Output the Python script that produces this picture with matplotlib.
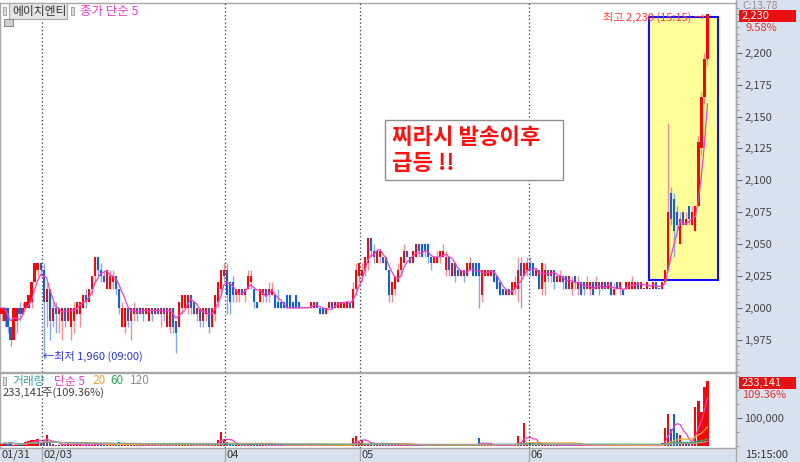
import numpy as np
import pandas as pd
import matplotlib
matplotlib.use('Agg')
import matplotlib.pyplot as plt
import matplotlib.transforms as mtransforms
from matplotlib.patches import Rectangle
from matplotlib.ticker import FuncFormatter, MultipleLocator

plt.rcParams['font.family'] = ['Noto Sans CJK KR', 'DejaVu Sans']

# minute candles (open, high, low, close), one list per trading day
day_0131 = [
    (1995, 2000, 1990, 2000), (1990, 2000, 1985, 2000), (2000, 2000, 1980, 1985),
    (1985, 1985, 1970, 1975), (1975, 2000, 1975, 2000), (1990, 2000, 1980, 2000),
    (2000, 2005, 1990, 1995), (1995, 2005, 1995, 2000), (2000, 2005, 2000, 2005),
    (2000, 2010, 2000, 2010), (2005, 2020, 2000, 2020), (2020, 2035, 2020, 2035),
    (2030, 2035, 2025, 2035), (2035, 2035, 2025, 2030),
]
day_0203 = [
    (2030, 2035, 1960, 2005), (2005, 2020, 1985, 2015), (2015, 2015, 1975, 1990),
    (1990, 2005, 1985, 2000), (2000, 2005, 1980, 1995), (1995, 2000, 1980, 2000),
    (1990, 2000, 1975, 2000), (2000, 2000, 1985, 1990), (1990, 2000, 1990, 2000),
    (1985, 2000, 1975, 2000), (1990, 2005, 1980, 2000), (1995, 2005, 1995, 2005),
    (1995, 2005, 1985, 2005), (2000, 2010, 2000, 2010), (2010, 2015, 2000, 2005),
    (2005, 2015, 2005, 2015), (2015, 2025, 2010, 2025), (2025, 2040, 2020, 2040),
    (2040, 2040, 2025, 2030), (2030, 2035, 2020, 2025), (2025, 2030, 2020, 2020),
    (2015, 2030, 2015, 2030), (2015, 2030, 2015, 2025), (2020, 2030, 2015, 2025),
    (2025, 2025, 2010, 2015), (2015, 2015, 1995, 2000), (1985, 2005, 1985, 2000),
    (1985, 2000, 1980, 2000), (2000, 2000, 1985, 1990), (1990, 2000, 1975, 2000),
    (1995, 2005, 1990, 2000), (2000, 2000, 1990, 1995), (1995, 2000, 1995, 2000),
    (2000, 2000, 1990, 1995), (1995, 2000, 1995, 2000), (1990, 2000, 1990, 2000),
    (2000, 2000, 1990, 1995), (1995, 2000, 1995, 2000), (2000, 2000, 1995, 1995),
    (1995, 2000, 1985, 2000), (2000, 2000, 1990, 1995), (1985, 2000, 1985, 2000),
    (1985, 2000, 1980, 2000), (2000, 2000, 1980, 1985), (1990, 1990, 1965, 1980),
    (1985, 2005, 1985, 2005), (2000, 2010, 1995, 2010), (2000, 2010, 2000, 2010),
    (2000, 2010, 1995, 2010), (2010, 2010, 1995, 2000), (2005, 2005, 1995, 1995),
    (1995, 2000, 1990, 2000), (2000, 2000, 1985, 1990), (1990, 2000, 1985, 2000),
    (1995, 2000, 1990, 2000), (2000, 2000, 1980, 1985), (1985, 2000, 1985, 2000),
    (1995, 2010, 1990, 2010), (2005, 2020, 2000, 2020), (2015, 2030, 2010, 2030),
    (2025, 2035, 2020, 2030),
]
day_0204 = [
    (2030, 2035, 1995, 2010), (2020, 2020, 1995, 2005), (2020, 2025, 2005, 2010),
    (2010, 2015, 2005, 2015), (2010, 2015, 2005, 2015), (2015, 2015, 2010, 2010),
    (2010, 2015, 2005, 2015), (2015, 2030, 2015, 2025), (2020, 2030, 2015, 2025),
    (2015, 2015, 2000, 2005), (2005, 2005, 2000, 2000), (2005, 2015, 2005, 2015),
    (2010, 2015, 2005, 2015), (2015, 2015, 2005, 2010), (2010, 2020, 2005, 2015),
    (2010, 2020, 2010, 2015), (2010, 2010, 2000, 2000), (2005, 2015, 2000, 2000),
    (2005, 2005, 2000, 2000), (2005, 2005, 2000, 2000), (2010, 2010, 2000, 2000),
    (2010, 2010, 2000, 2000), (2005, 2005, 2000, 2000), (2010, 2010, 2000, 2000),
    (2005, 2005, 2000, 2000), (2000, 2000, 2000, 2000), (2000, 2000, 2000, 2000),
    (2000, 2000, 2000, 2000), (2000, 2005, 2000, 2005), (2000, 2005, 2000, 2005),
    (2005, 2005, 2000, 2000), (2000, 2000, 1995, 1995), (2000, 2000, 1995, 1995),
    (1995, 2000, 1995, 2000), (2000, 2005, 2000, 2005), (2005, 2005, 2000, 2000),
    (2000, 2005, 2000, 2005), (2000, 2005, 2000, 2005), (2000, 2005, 2000, 2005),
    (2000, 2005, 2000, 2005), (2000, 2005, 2000, 2005), (2005, 2005, 2000, 2000),
    (2000, 2020, 2000, 2015), (2015, 2035, 2010, 2030), (2025, 2035, 2020, 2035),
]
day_0205 = [
    (2025, 2035, 2020, 2030), (2030, 2040, 2025, 2040), (2035, 2055, 2030, 2055),
    (2055, 2055, 2040, 2045), (2045, 2050, 2035, 2040), (2035, 2045, 2035, 2045),
    (2040, 2045, 2035, 2045), (2040, 2040, 2035, 2035), (2040, 2040, 2030, 2030),
    (2030, 2030, 2005, 2010), (2010, 2020, 2005, 2020), (2015, 2025, 2010, 2025),
    (2020, 2035, 2020, 2030), (2030, 2040, 2025, 2040), (2035, 2050, 2035, 2045),
    (2045, 2045, 2040, 2040), (2040, 2040, 2035, 2035), (2035, 2045, 2035, 2045),
    (2040, 2050, 2040, 2050), (2050, 2050, 2040, 2045), (2050, 2050, 2040, 2040),
    (2050, 2050, 2040, 2045), (2050, 2050, 2035, 2040), (2040, 2040, 2030, 2035),
    (2035, 2040, 2035, 2040), (2035, 2045, 2035, 2040), (2040, 2045, 2035, 2045),
    (2040, 2050, 2040, 2045), (2030, 2045, 2025, 2040), (2040, 2040, 2025, 2030),
    (2025, 2035, 2025, 2035), (2035, 2035, 2020, 2025), (2030, 2030, 2025, 2025),
    (2025, 2030, 2025, 2030), (2030, 2030, 2020, 2025), (2025, 2035, 2025, 2035),
    (2030, 2040, 2030, 2035), (2035, 2035, 2025, 2025), (2035, 2035, 2025, 2025),
    (2035, 2035, 2000, 2025), (2010, 2030, 2005, 2030), (2025, 2030, 2025, 2030),
    (2025, 2030, 2025, 2030), (2025, 2030, 2025, 2030), (2030, 2030, 2020, 2020),
    (2025, 2025, 2015, 2015), (2020, 2020, 2010, 2010), (2015, 2015, 2010, 2010),
    (2010, 2015, 2010, 2015), (2015, 2015, 2010, 2010), (2010, 2020, 2010, 2020),
    (2015, 2025, 2010, 2020), (2015, 2040, 2005, 2030), (2035, 2040, 2000, 2025),
    (2025, 2035, 2025, 2035), (2030, 2040, 2025, 2035),
]
day_0206 = [
    (2035, 2040, 2025, 2030), (2035, 2035, 2025, 2025), (2025, 2030, 2025, 2030),
    (2030, 2030, 2015, 2015), (2015, 2035, 2010, 2035), (2020, 2035, 2010, 2030),
    (2030, 2030, 2020, 2025), (2025, 2030, 2020, 2030), (2030, 2030, 2015, 2020),
    (2020, 2025, 2020, 2025), (2020, 2030, 2020, 2025), (2025, 2025, 2015, 2020),
    (2025, 2025, 2015, 2015), (2015, 2025, 2015, 2025), (2015, 2025, 2010, 2020),
    (2025, 2025, 2015, 2020), (2015, 2025, 2010, 2020), (2020, 2020, 2010, 2010),
    (2020, 2020, 2010, 2015), (2015, 2025, 2015, 2020), (2015, 2020, 2010, 2020),
    (2020, 2020, 2010, 2010), (2015, 2025, 2015, 2020), (2020, 2020, 2010, 2015),
    (2015, 2020, 2015, 2020), (2020, 2020, 2015, 2015), (2015, 2020, 2015, 2020),
    (2020, 2020, 2010, 2010), (2010, 2020, 2010, 2015), (2020, 2020, 2015, 2015),
    (2015, 2020, 2010, 2020), (2015, 2015, 2010, 2010), (2015, 2020, 2015, 2020),
    (2015, 2020, 2015, 2020), (2015, 2025, 2015, 2020), (2015, 2020, 2015, 2020),
    (2020, 2020, 2015, 2015), (2015, 2020, 2015, 2020), (2015, 2015, 2015, 2015),
    (2015, 2020, 2015, 2020), (2015, 2015, 2015, 2015), (2015, 2020, 2015, 2020),
    (2020, 2020, 2015, 2015), (2015, 2015, 2015, 2015), (2015, 2020, 2015, 2020),
    (2020, 2030, 2020, 2030), (2030, 2145, 2030, 2075), (2090, 2095, 2065, 2070),
    (2085, 2090, 2040, 2060), (2075, 2080, 2060, 2065), (2050, 2075, 2050, 2070),
    (2075, 2075, 2065, 2065), (2065, 2075, 2065, 2070), (2080, 2080, 2065, 2070),
    (2065, 2080, 2065, 2075), (2060, 2080, 2060, 2080), (2080, 2135, 2080, 2130),
    (2125, 2170, 2120, 2165), (2165, 2200, 2160, 2195), (2195, 2230, 2190, 2230),
]

# volume per candle, thousands of shares
vol_0131 = [8, 12, 6, 15, 5, 4, 6, 5, 14, 18, 20, 22, 25, 12]
vol_0203 = [20, 38, 10, 6, 5, 4, 5, 3, 15, 4, 3, 5, 4, 3, 6, 4, 5, 8, 10, 6,
            4, 3, 5, 4, 12, 15, 5, 4, 3, 5, 4, 3, 4, 5, 3, 4, 6, 3, 4, 5,
            3, 4, 5, 4, 10, 8, 3, 5, 4, 3, 4, 5, 6, 3, 4, 5, 6, 8, 20, 50, 25]
vol_0204 = [15, 8, 5, 4, 3, 4, 5, 6, 4, 10, 3, 4, 3, 4, 5, 3, 4, 3, 2, 3,
            4, 3, 6, 3, 2, 2, 1, 2, 3, 2, 3, 4, 2, 3, 2, 3, 2, 3, 2, 3,
            2, 3, 30, 35, 15]
vol_0205 = [20, 10, 8, 6, 5, 4, 3, 6, 4, 5, 4, 3, 4, 3, 5, 3, 2, 3, 4, 3,
            2, 3, 4, 3, 2, 3, 2, 3, 4, 3, 2, 3, 2, 3, 2, 3, 4, 3, 5, 30,
            8, 3, 2, 3, 4, 3, 2, 3, 2, 3, 4, 6, 35, 10, 82, 12]
vol_0206 = [15, 10, 5, 6, 8, 4, 3, 4, 5, 3, 2, 3, 4, 3, 2, 3, 4, 3, 2, 3,
            2, 3, 2, 3, 2, 3, 2, 3, 2, 3, 2, 3, 2, 3, 4, 3, 2, 3, 1, 2,
            1, 2, 3, 1, 10, 65, 115, 60, 115, 45, 40, 10, 8, 10, 8, 140, 160, 120, 210, 233.141]

day_labels = ['01/31', '02/03', '04', '05', '06']
price_ticks = [1975, 2000, 2025, 2050, 2075, 2100, 2125, 2150, 2175, 2200]
vol_ticks = [100000]

W, H = 800, 462


def fbox(x0, y0, x1, y1):
    return [x0 / W, 1 - y1 / H, (x1 - x0) / W, (y1 - y0) / H]


def fx(x):
    return x / W


def fy(y):
    return 1 - y / H


days = [day_0131, day_0203, day_0204, day_0205, day_0206]
df = pd.DataFrame(sum(days, []), columns=['open', 'high', 'low', 'close'])
df['volume'] = np.array(vol_0131 + vol_0203 + vol_0204 + vol_0205 + vol_0206) * 1000
df['x'] = np.arange(len(df))
df['ma5'] = df['close'].rolling(5, min_periods=1).mean()
up = df['close'] > df['open']
day_starts = np.cumsum([0] + [len(d) for d in days[:-1]])

fig = plt.figure(figsize=(8, 4.62), dpi=100)
fig.patch.set_facecolor('white')
bg = '#d8e2ee'
fig.add_artist(Rectangle((fx(736), 0), fx(64), 1, transform=fig.transFigure,
                         facecolor=bg, edgecolor='none', zorder=-2))
fig.add_artist(Rectangle((0, 0), fx(736), 14 / H, transform=fig.transFigure,
                         facecolor=bg, edgecolor='none', zorder=-2))

ax = fig.add_axes(fbox(0, 3, 736, 372))
axv = fig.add_axes(fbox(0, 373, 736, 448))

red, blue = '#f00a0a', '#1560d4'
red_w, blue_w = '#f59090', '#86a8e6'

# price candles
ax.vlines(df['x'], df['low'], df['high'], colors=np.where(up, red_w, blue_w), lw=1, zorder=2)
ax.bar(df['x'], np.maximum((df['close'] - df['open']).abs(), 0.9),
       bottom=np.minimum(df['open'], df['close']), width=0.7,
       color=np.where(up, red, blue), zorder=3)
ax.plot(df['x'], df['ma5'], color='#f040c8', lw=0.9, zorder=4)

# highlight box around the last-day spike
ax.add_patch(Rectangle((215.5, 2022), 23, 206, facecolor='#ffff99',
                       edgecolor='#1010ff', lw=1.5, zorder=1))

ax.text(13.8, 1962, '←최저 1,960 (09:00)', color='#2a34d8', fontsize=8,
        ha='left', va='center', zorder=6)
ax.text(234.3, 2228, '최고 2,230 (15:15) →', color='#ff3a3a', fontsize=8,
        ha='right', va='center', zorder=6)

ax.set_xlim(-0.5, 244.5)
ax.set_ylim(1949.8, 2239)
ax.set_xticks([])
ax.yaxis.tick_right()
ax.set_yticks(price_ticks)
ax.yaxis.set_major_formatter(FuncFormatter(lambda v, p: f'{v:,.0f}'))
ax.yaxis.set_minor_locator(MultipleLocator(5))
ax.tick_params(axis='y', which='major', direction='out', length=4, pad=2,
               color='#666', labelcolor='#444', labelsize=8)
ax.tick_params(axis='y', which='minor', direction='out', length=2, color='#888')

# volume
axv.bar(df['x'], df['volume'], width=0.7, color=np.where(up, red, blue), zorder=3)
for n, c in [(5, '#f040c8'), (20, '#f0a830'), (60, '#2fa85a'), (120, '#a0a0a0')]:
    axv.plot(df['x'], df['volume'].rolling(n, min_periods=1).mean(), color=c, lw=0.9, zorder=4)
axv.set_xlim(-0.5, 244.5)
axv.set_ylim(-7000, 260000)
axv.set_xticks([])
axv.yaxis.tick_right()
axv.set_yticks(vol_ticks)
axv.yaxis.set_major_formatter(FuncFormatter(lambda v, p: f'{v:,.0f}'))
axv.yaxis.set_minor_locator(MultipleLocator(50000))
axv.tick_params(axis='y', which='major', direction='out', length=4, pad=2,
                color='#666', labelcolor='#444', labelsize=8)
axv.tick_params(axis='y', which='minor', direction='out', length=2, color='#888')

for a in (ax, axv):
    for s in a.spines.values():
        s.set_color('#a8a8a8')
        s.set_linewidth(1)
    for s in day_starts[1:]:
        a.axvline(s - 0.5, color='#333', ls=(0, (1, 2)), lw=0.9, zorder=5)

# time strip
trans = mtransforms.blended_transform_factory(ax.transData, fig.transFigure)
for s, lab in zip(day_starts, day_labels):
    fig.text(s - 0.5 + 0.5, fy(455), lab, transform=trans, fontsize=8,
             color='#333', ha='left', va='center')
    if s > 0:
        fig.add_artist(plt.Line2D([s - 0.5, s - 0.5], [0, 14 / H], transform=trans,
                                  color='#a8a8a8', lw=1))
fig.text(fx(745), fy(455), '15:15:00', fontsize=8, color='#333', va='center')
fig.add_artist(plt.Line2D([fx(736), fx(736)], [0, 1], transform=fig.transFigure,
                          color='#a8a8a8', lw=1))

# header of price panel
fig.add_artist(Rectangle((fx(3), fy(15)), fx(3), 8 / H, transform=fig.transFigure,
                         facecolor='#ddd', edgecolor='#999', lw=0.6))
fig.add_artist(Rectangle((fx(9), fy(19)), fx(58), 16 / H, transform=fig.transFigure,
                         facecolor='#e4e4e4', edgecolor='#a8a8a8', lw=0.8))
fig.text(fx(12), fy(11), '에이치엔티', fontsize=8.5, color='#333', va='center')
fig.add_artist(Rectangle((fx(71), fy(15)), fx(3), 8 / H, transform=fig.transFigure,
                         facecolor='#ddd', edgecolor='#999', lw=0.6))
fig.text(fx(80), fy(11), '종가 단순 5', fontsize=9, color='#e83ec8', va='center')
fig.add_artist(Rectangle((fx(4), fy(26)), fx(9), 7 / H, transform=fig.transFigure,
                         facecolor='#cfcfcf', edgecolor='#777', lw=0.6))

# header of volume panel
fig.add_artist(Rectangle((fx(3), fy(385)), fx(3), 8 / H, transform=fig.transFigure,
                         facecolor='#ddd', edgecolor='#999', lw=0.6))
for x, t, c in [(12, '거래량', '#3aa0a8'), (54, '단순 5', '#e83ec8'),
                (92, '20', '#f0a830'), (110, '60', '#2fa85a'), (130, '120', '#909090')]:
    fig.text(fx(x), fy(381), t, fontsize=8.5, color=c, va='center')
fig.text(fx(3), fy(393), '233,141주(109.36%)', fontsize=8, color='#404040', va='center')

# right side value tags
fig.text(fx(742), fy(6), 'C:13.78', fontsize=7.5, color='#9a8a8a', va='center')
fig.add_artist(Rectangle((fx(739), fy(22)), fx(57), 12 / H, transform=fig.transFigure,
                         facecolor='#e81010', edgecolor='none', zorder=5))
fig.text(fx(742), fy(16), '2,230', fontsize=8, color='white', va='center', zorder=6)
fig.text(fx(745), fy(28), '9.58%', fontsize=8, color='#e83030', va='center')
fig.add_artist(Rectangle((fx(739), fy(389)), fx(57), 12 / H, transform=fig.transFigure,
                         facecolor='#e81010', edgecolor='none', zorder=5))
fig.text(fx(742), fy(383), '233,141', fontsize=8, color='white', va='center', zorder=6)
fig.text(fx(742), fy(395), '109.36%', fontsize=8, color='#e83030', va='center')

# comment box
fig.add_artist(Rectangle((fx(385), fy(180)), fx(178), 60 / H, transform=fig.transFigure,
                         facecolor='white', edgecolor='#909090', lw=1, zorder=5))
fig.text(fx(392), fy(138), '찌라시 발송이후', fontsize=16, fontweight='bold',
         color='#ff1010', va='center', zorder=6)
fig.text(fx(392), fy(163), '급등 !!', fontsize=16, fontweight='bold',
         color='#ff1010', va='center', zorder=6)

fig.savefig('out.png', dpi=100)
